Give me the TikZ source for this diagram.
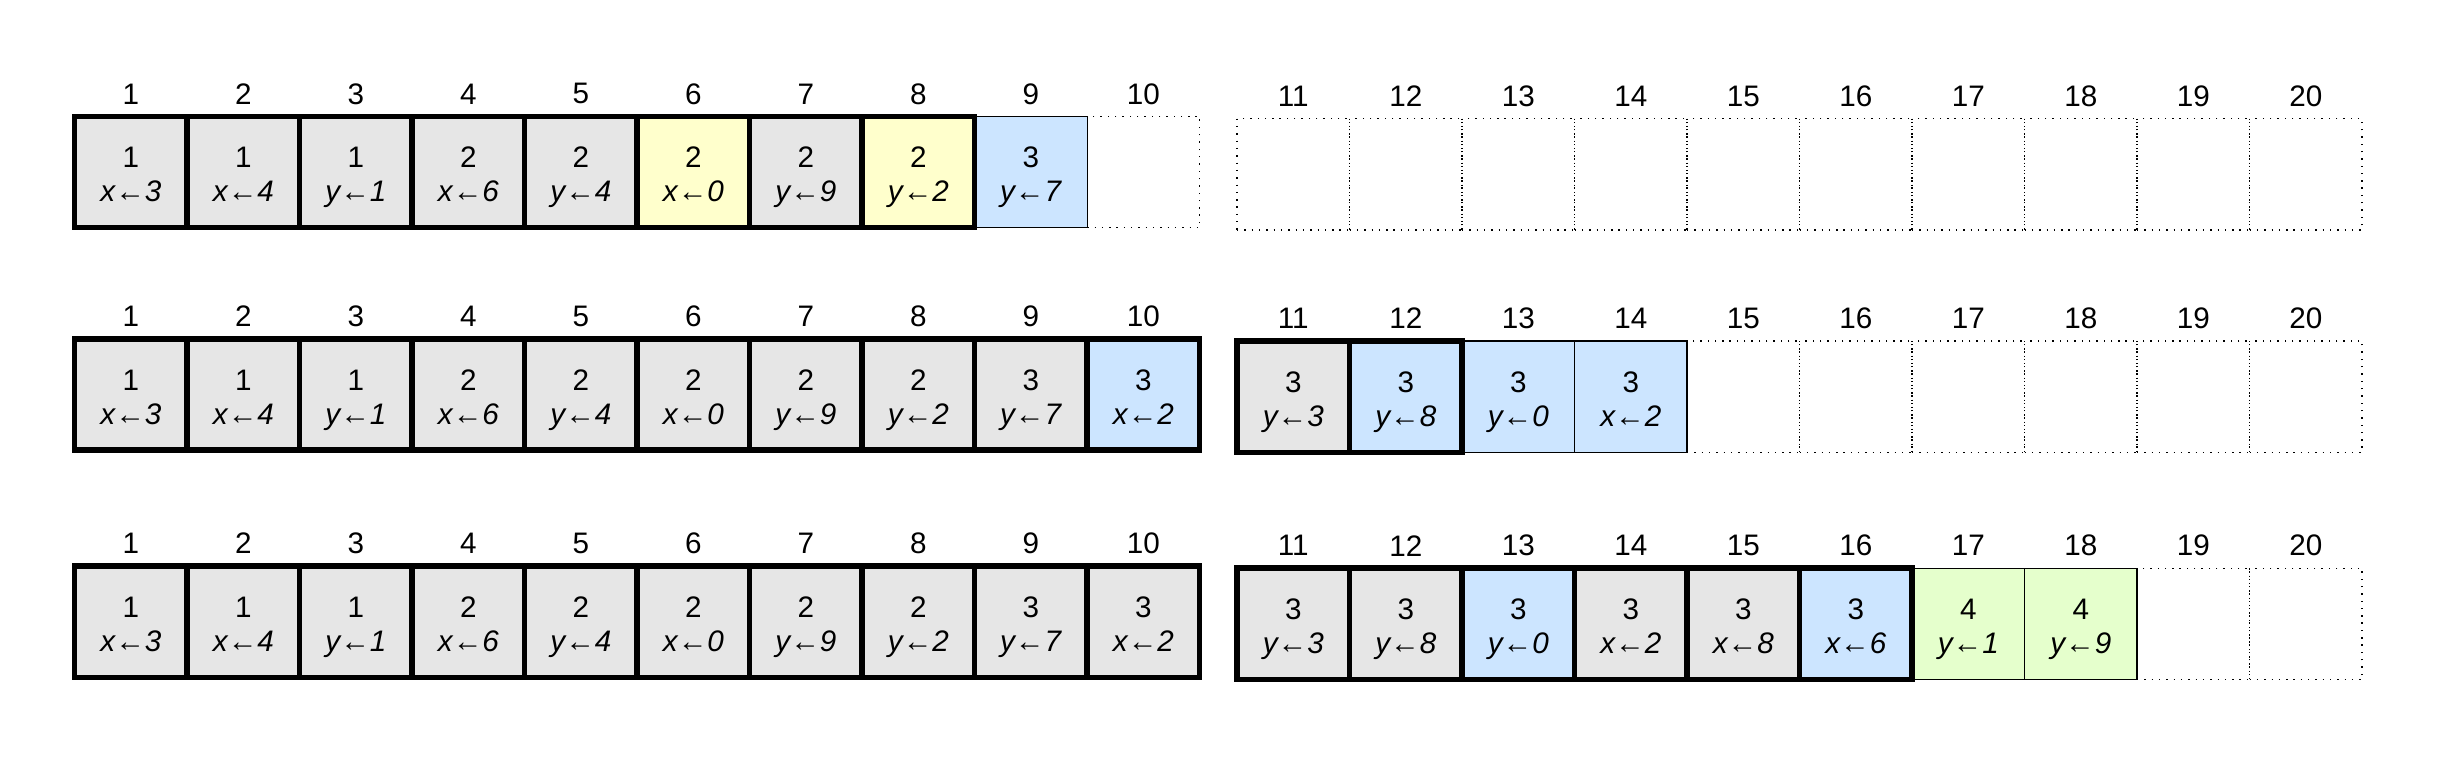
\documentclass[tikz,border=0pt]{standalone}
\usepackage{fontspec}
\setmainfont{Liberation Sans}

\definecolor{cellgray}{RGB}{230,230,230}
\definecolor{cellyellow}{RGB}{255,255,204}
\definecolor{cellblue}{RGB}{204,229,255}
\definecolor{cellgreen}{RGB}{229,255,204}

\newcommand{\asg}[2]{\textit{#1←#2}}

\tikzset{
  cell/.style={rectangle, minimum width=1cm, minimum height=0.99cm,
    inner sep=0pt, outer sep=0pt, align=center,
    font=\fontsize{7.5}{8.6}\selectfont, text height=17pt, text depth=2pt},
  done/.style={cell, draw, line width=1.4pt},
  fresh/.style={cell, draw, line width=0.3pt},
  free/.style={cell, draw, line width=0.35pt, dash pattern=on 0.35pt off 1.5pt},
  idx/.style={inner sep=0pt, font=\fontsize{7.5}{9}\selectfont},
  slot/.style 2 args={at={({#1+0.164+0.332*(#1>10)},{#2-0.02*(#1>10)})}}
}

\begin{document}
\begin{tikzpicture}
    \useasboundingbox (0,0) rectangle (21.68,6.72);

    % first row
    \foreach \i in {10,...,20}
        \node[free, slot={\i}{5.191}] (a\i) {};
    \node[fresh, fill=cellblue, slot={9}{5.191}] (a9) {3\\\asg{y}{7}};
    \foreach \i/\v/\l/\r/\c in {1/1/x/3/cellgray, 2/1/x/4/cellgray, 3/1/y/1/cellgray,
        4/2/x/6/cellgray, 5/2/y/4/cellgray, 6/2/x/0/cellyellow, 7/2/y/9/cellgray,
        8/2/y/2/cellyellow}
        \node[done, fill=\c, slot={\i}{5.191}] (a\i) {\v\\\asg{\l}{\r}};
    \foreach \i in {1,...,20}
        \node[idx] (na\i) at ([yshift=0.2cm]a\i.north) {\i};

    % second row
    \foreach \i in {15,...,20}
        \node[free, slot={\i}{3.214}] (b\i) {};
    \foreach \i/\v/\l/\r/\c in {13/3/y/0/cellblue, 14/3/x/2/cellblue}
        \node[fresh, fill=\c, slot={\i}{3.214}] (b\i) {\v\\\asg{\l}{\r}};
    \foreach \i/\v/\l/\r/\c in {1/1/x/3/cellgray, 2/1/x/4/cellgray, 3/1/y/1/cellgray,
        4/2/x/6/cellgray, 5/2/y/4/cellgray, 6/2/x/0/cellgray, 7/2/y/9/cellgray,
        8/2/y/2/cellgray, 9/3/y/7/cellgray, 10/3/x/2/cellblue, 11/3/y/3/cellgray,
        12/3/y/8/cellblue}
        \node[done, fill=\c, slot={\i}{3.214}] (b\i) {\v\\\asg{\l}{\r}};
    \foreach \i in {1,...,20}
        \node[idx] (nb\i) at ([yshift=0.2cm]b\i.north) {\i};

    % third row
    \foreach \i in {19,20}
        \node[free, slot={\i}{1.194}] (c\i) {};
    \foreach \i/\v/\l/\r/\c in {17/4/y/1/cellgreen, 18/4/y/9/cellgreen}
        \node[fresh, fill=\c, slot={\i}{1.194}] (c\i) {\v\\\asg{\l}{\r}};
    \foreach \i/\v/\l/\r/\c in {1/1/x/3/cellgray, 2/1/x/4/cellgray, 3/1/y/1/cellgray,
        4/2/x/6/cellgray, 5/2/y/4/cellgray, 6/2/x/0/cellgray, 7/2/y/9/cellgray,
        8/2/y/2/cellgray, 9/3/y/7/cellgray, 10/3/x/2/cellgray, 11/3/y/3/cellgray,
        12/3/y/8/cellgray, 13/3/y/0/cellblue, 14/3/x/2/cellgray, 15/3/x/8/cellgray,
        16/3/x/6/cellblue}
        \node[done, fill=\c, slot={\i}{1.194}] (c\i) {\v\\\asg{\l}{\r}};
    \foreach \i in {1,...,20}
        \node[idx] (nc\i) at ([yshift=0.2cm]c\i.north) {\i};
\end{tikzpicture}
\end{document}
